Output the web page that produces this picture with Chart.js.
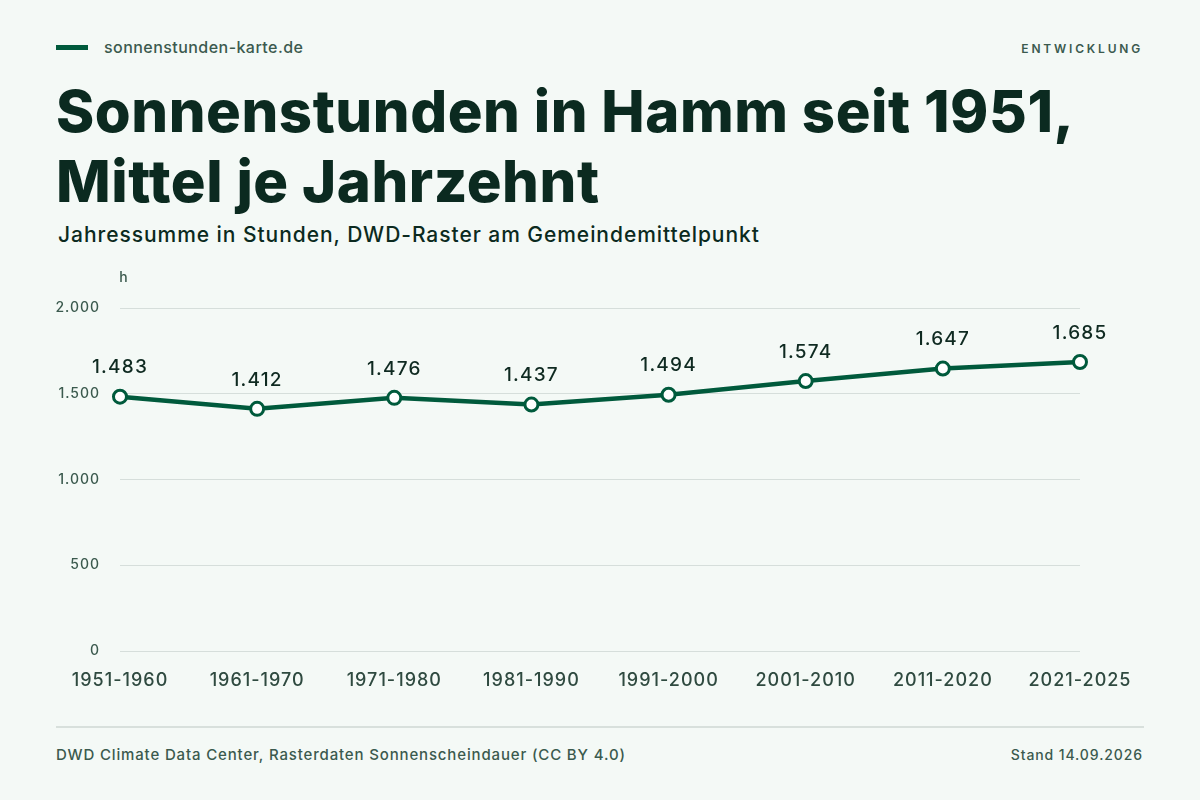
<!DOCTYPE html>
<html lang="de">
<head>
<meta charset="utf-8">
<title>Sonnenstunden in Hamm</title>
<script src="https://cdn.jsdelivr.net/npm/chart.js@4.4.1/dist/chart.umd.min.js"></script>
<style>
    html, body {
        margin: 0;
        padding: 0;
        width: 1200px;
        height: 800px;
        background: #f4f9f6;
        font-family: Inter, "Noto Sans", sans-serif;
        overflow: hidden;
    }
    .page { position: relative; width: 1200px; height: 800px; }
    .brand-bar {
        position: absolute; left: 56px; top: 45px;
        width: 32px; height: 5px; background: #005a3c;
    }
    .brand {
        position: absolute; left: 104px; top: 37px;
        font-size: 16px; font-weight: 500; letter-spacing: 0.45px; color: #3b5a4e;
    }
    .kicker {
        position: absolute; right: 57px; top: 41px;
        font-size: 12px; font-weight: 600; letter-spacing: 2.8px; color: #3b5a4e;
    }
    h1 {
        position: absolute; left: 56px; top: 76px; margin: 0;
        font-size: 58px; line-height: 70px; font-weight: 800;
        letter-spacing: 0.55px; color: #0b2a20;
    }
    .subtitle {
        position: absolute; left: 58px; top: 222px;
        font-size: 21px; font-weight: 500; letter-spacing: 0.95px; color: #0b2a20;
    }
    .chart-box {
        position: absolute; left: 56px; top: 260px; width: 1088px; height: 440px;
    }
    .rule {
        position: absolute; left: 56px; top: 726px; width: 1088px; height: 2px; background: #d8e0dc;
    }
    .source {
        position: absolute; left: 56px; top: 745px;
        font-size: 15px; font-weight: 500; letter-spacing: 0.85px; color: #3b5a4e;
    }
    .stand {
        position: absolute; right: 57px; top: 746px;
        font-size: 14px; font-weight: 500; letter-spacing: 0.9px; color: #3b5a4e;
    }
</style>
</head>
<body>
<div class="page">
    <div class="brand-bar"></div>
    <div class="brand">sonnenstunden-karte.de</div>
    <div class="kicker">ENTWICKLUNG</div>
    <h1>Sonnenstunden in Hamm seit 1951,<br>Mittel je Jahrzehnt</h1>
    <div class="subtitle">Jahressumme in Stunden, DWD-Raster am Gemeindemittelpunkt</div>
    <div class="chart-box"><canvas id="chart" width="1088" height="440"></canvas></div>
    <div class="rule"></div>
    <div class="source">DWD Climate Data Center, Rasterdaten Sonnenscheindauer (CC BY 4.0)</div>
    <div class="stand">Stand 14.09.2026</div>
</div>
<script>
const decades = ['1951-1960', '1961-1970', '1971-1980', '1981-1990', '1991-2000', '2001-2010', '2011-2020', '2021-2025'];
const sunHours = [1483, 1412, 1476, 1437, 1494, 1574, 1647, 1685];
const yTicks = [0, 500, 1000, 1500, 2000];

// German thousands separator
function formatDe(v) {
    return String(Math.round(v)).replace(/\B(?=(\d{3})+(?!\d))/g, '.');
}

// The reference face runs wider than Inter, so space the canvas text a little
const spacingPlugin = {
    id: 'letterSpacing',
    beforeDraw(chart) { chart.ctx.letterSpacing = '1px'; }
};

// Value labels above points + unit label above the axis
const labelPlugin = {
    id: 'valueLabels',
    afterDatasetsDraw(chart) {
        const ctx = chart.ctx;
        const meta = chart.getDatasetMeta(0);
        ctx.save();
        ctx.letterSpacing = '1.2px';
        ctx.fillStyle = '#0f2a21';
        ctx.font = '500 19px Inter';
        ctx.textAlign = 'center';
        ctx.textBaseline = 'middle';
        meta.data.forEach((pt, i) => {
            ctx.fillText(formatDe(sunHours[i]), pt.x, pt.y - 29);
        });
        ctx.fillStyle = '#3b5a4e';
        ctx.font = '500 14px Inter';
        ctx.fillText('h', chart.chartArea.left + 4, chart.chartArea.top - 30);
        ctx.restore();
    }
};

new Chart(document.getElementById('chart'), {
    type: 'line',
    data: {
        labels: decades,
        datasets: [{
            data: sunHours,
            borderColor: '#005a3c',
            borderWidth: 4.5,
            tension: 0,
            pointRadius: 6.5,
            pointBorderWidth: 3,
            pointBackgroundColor: '#ffffff',
            pointBorderColor: '#005a3c',
            fill: false
        }]
    },
    options: {
        responsive: false,
        animation: false,
        layout: { padding: { top: 48, right: 64, left: 0, bottom: 0 } },
        plugins: {
            legend: { display: false },
            tooltip: { enabled: false }
        },
        scales: {
            x: {
                offset: false,
                grid: { display: false },
                border: { display: false },
                ticks: {
                    color: '#2f4a40',
                    font: { family: 'Inter', size: 18, weight: '500' },
                    padding: 11,
                    maxRotation: 0,
                    autoSkip: false
                },
                afterFit(scale) { scale.height = 49; }
            },
            y: {
                min: 0,
                max: 2000,
                afterBuildTicks(scale) { scale.ticks = yTicks.map(v => ({ value: v })); },
                grid: { color: '#d6dedb', lineWidth: 1, drawTicks: false },
                border: { display: false },
                ticks: {
                    color: '#3b5a4e',
                    font: { family: 'Inter', size: 14, weight: '500' },
                    padding: 20,
                    callback: v => formatDe(v)
                },
                afterFit(scale) { scale.width = 64; }
            }
        }
    },
    plugins: [spacingPlugin, labelPlugin]
});
</script>
</body>
</html>
